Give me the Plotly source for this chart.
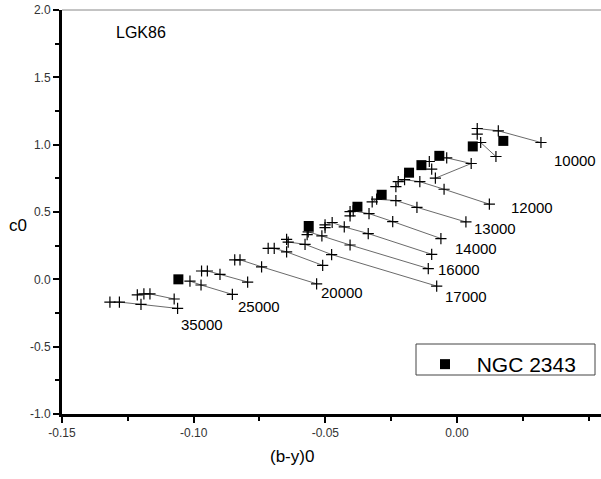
import plotly.graph_objects as go

# ---- data (x = (b-y)0, y = c0) ----
x_10000 = [0.0077, 0.0157, 0.0319]
y_10000 = [1.120, 1.103, 1.016]
x_11000 = [0.0090, 0.0148]
y_11000 = [1.016, 0.912]
x_11500 = [-0.0039, 0.0054, -0.0082]
y_11500 = [0.902, 0.860, 0.751]
x_12000 = [-0.0232, -0.0223, -0.0199, -0.0141, -0.0049, 0.0123]
y_12000 = [0.688, 0.726, 0.740, 0.725, 0.669, 0.558]
x_13000 = [-0.0322, -0.0305, -0.0232, -0.0152, 0.0034]
y_13000 = [0.575, 0.595, 0.585, 0.535, 0.426]
x_14000 = [-0.0406, -0.0406, -0.0394, -0.0334, -0.0244, -0.0061]
y_14000 = [0.471, 0.503, 0.508, 0.488, 0.429, 0.303]
x_15000 = [-0.0501, -0.0501, -0.0474, -0.0428, -0.0337, -0.0096]
y_15000 = [0.384, 0.404, 0.422, 0.389, 0.340, 0.186]
x_16000 = [-0.0569, -0.0565, -0.0513, -0.0406, -0.0109]
y_16000 = [0.332, 0.353, 0.322, 0.255, 0.080]
x_17000 = [-0.0647, -0.0641, -0.0577, -0.0476, -0.0077]
y_17000 = [0.297, 0.277, 0.260, 0.184, -0.050]
x_18000 = [-0.0717, -0.0694, -0.0647, -0.0510]
y_18000 = [0.230, 0.230, 0.204, 0.104]
x_20000 = [-0.0844, -0.0824, -0.0742, -0.0533]
y_20000 = [0.145, 0.145, 0.093, -0.033]
x_22000 = [-0.0970, -0.0948, -0.0900, -0.0795]
y_22000 = [0.062, 0.062, 0.037, -0.020]
x_25000 = [-0.1014, -0.0972, -0.0853]
y_25000 = [-0.013, -0.042, -0.112]
x_30000 = [-0.1214, -0.1189, -0.1166, -0.1074]
y_30000 = [-0.115, -0.108, -0.108, -0.146]
x_35000 = [-0.1318, -0.1282, -0.1200, -0.1061]
y_35000 = [-0.169, -0.169, -0.186, -0.216]
x_extra = [0.0077, -0.0105, -0.0096]
y_extra = [1.078, 0.875, 0.818]

ngc_x = [0.0176, 0.0060, -0.0067, -0.0135, -0.0182, -0.0286, -0.0378, -0.0563, -0.1058]
ngc_y = [1.028, 0.987, 0.917, 0.848, 0.792, 0.628, 0.539, 0.396, 0.000]

label_text = ["10000", "12000", "13000", "14000", "16000", "17000", "20000", "25000", "35000"]
label_x = [0.0361, 0.0199, 0.0056, -0.0016, -0.0080, -0.0054, -0.0523, -0.0839, -0.1055]
label_y = [0.880, 0.533, 0.379, 0.228, 0.074, -0.124, -0.099, -0.203, -0.335]

x_tickvals = [-0.15, -0.10, -0.05, 0.00]
x_ticktext = ["-0.15", "-0.10", "-0.05", "0.00"]
y_tickvals = [-1.0, -0.5, 0.0, 0.5, 1.0, 1.5, 2.0]
y_ticktext = ["-1.0", "-0.5", "0.0", "0.5", "1.0", "1.5", "2.0"]

tracks = [
    (x_10000, y_10000), (x_11000, y_11000), (x_11500, y_11500), (x_12000, y_12000),
    (x_13000, y_13000), (x_14000, y_14000), (x_15000, y_15000), (x_16000, y_16000),
    (x_17000, y_17000), (x_18000, y_18000), (x_20000, y_20000), (x_22000, y_22000),
    (x_25000, y_25000), (x_30000, y_30000), (x_35000, y_35000),
]

FONT = "Arial, Liberation Sans, sans-serif"
fig = go.Figure()
plus = dict(symbol="cross-thin", size=8, color="black", line=dict(color="black", width=1.2))
for tx, ty in tracks:
    fig.add_trace(go.Scatter(x=tx, y=ty, mode="lines+markers", showlegend=False,
                             line=dict(color="#444", width=0.8), marker=plus, hoverinfo="skip"))
fig.add_trace(go.Scatter(x=x_extra, y=y_extra, mode="markers", showlegend=False,
                         marker=plus, hoverinfo="skip"))
fig.add_trace(go.Scatter(x=ngc_x, y=ngc_y, mode="markers", name="\u00a0\u00a0NGC 2343",
                         marker=dict(symbol="square", size=10, color="black")))

for t, lx, ly in zip(label_text, label_x, label_y):
    fig.add_annotation(x=lx, y=ly, text=t, showarrow=False, xanchor="left", yanchor="middle",
                       font=dict(family=FONT, size=15, color="black"))

fig.add_annotation(x=-0.1301, y=1.834, text="LGK86", showarrow=False, xanchor="left",
                   yanchor="middle", font=dict(family=FONT, size=16, color="black"))
fig.add_annotation(xref="paper", yref="paper", x=(292 - 62) / 539, y=(414 - 456) / 404,
                   text="(b-y)0", showarrow=False, xanchor="center", yanchor="middle",
                   font=dict(family=FONT, size=17, color="black"))
fig.add_annotation(xref="paper", yref="paper", x=(18 - 62) / 539, y=(414 - 225) / 404,
                   text="c0", showarrow=False, xanchor="center", yanchor="middle",
                   font=dict(family=FONT, size=17, color="black"))

# top border line and legend box
fig.add_shape(type="line", xref="paper", yref="paper", x0=0, x1=1, y0=1, y1=1,
              line=dict(color="#888", width=1))
fig.add_shape(type="rect", xref="paper", yref="paper",
              x0=(416 - 62) / 539, x1=(595 - 62) / 539,
              y0=(414 - 375) / 404, y1=(414 - 344) / 404,
              line=dict(color="#444", width=1), fillcolor="rgba(0,0,0,0)")

fig.update_layout(
    width=601, height=479,
    margin=dict(l=62, r=0, t=10, b=65),
    paper_bgcolor="white", plot_bgcolor="white",
    font=dict(family=FONT),
    legend=dict(x=(425 - 62) / 539, y=(414 - 344) / 404, xanchor="left", yanchor="top",
                bgcolor="rgba(0,0,0,0)", borderwidth=0,
                font=dict(family=FONT, size=21, color="black")),
)
fig.update_xaxes(range=[-0.15, 0.0547], showgrid=False, zeroline=False,
                 showline=True, linecolor="black", linewidth=3,
                 tickvals=x_tickvals, ticktext=x_ticktext, ticks="outside", ticklen=6,
                 tickwidth=2, tickcolor="black",
                 tickfont=dict(family=FONT, size=12, color="#333"),
                 minor=dict(dtick=0.025, tick0=-0.15, ticks="outside", ticklen=4,
                            tickwidth=2, tickcolor="black"))
fig.update_yaxes(range=[-1, 2], showgrid=False, zeroline=False,
                 showline=True, linecolor="black", linewidth=3,
                 tickvals=y_tickvals, ticktext=y_ticktext, ticks="outside", ticklen=6,
                 tickwidth=2, tickcolor="black",
                 tickfont=dict(family=FONT, size=12, color="#333"),
                 minor=dict(dtick=0.25, tick0=-1, ticks="outside", ticklen=4,
                            tickwidth=2, tickcolor="black"))

fig.write_html("out.html", config={"displayModeBar": False},
               post_script="document.body.style.margin='0';document.body.style.overflow='hidden';")
